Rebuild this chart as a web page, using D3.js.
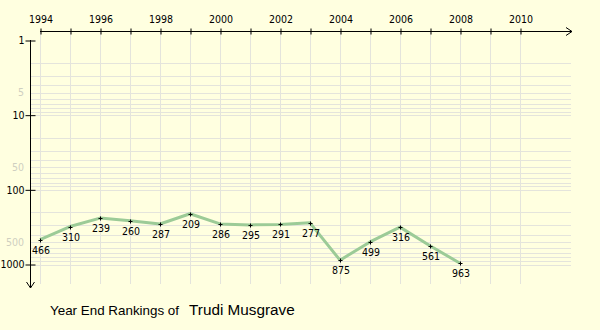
<!DOCTYPE html>
<html>
<head>
<meta charset="utf-8">
<script src="https://cdn.jsdelivr.net/npm/d3@7"></script>
<style>
  html, body { margin: 0; padding: 0; background: #ffffe0; }
  svg { display: block; }
</style>
</head>
<body>
<svg id="chart" width="600" height="330"></svg>
<script>
// Year-end rankings
const years = [1994, 1995, 1996, 1997, 1998, 1999, 2000, 2001, 2002, 2003, 2004, 2005, 2006, 2007, 2008];
const ranks = [466, 310, 239, 260, 287, 209, 286, 295, 291, 277, 875, 499, 316, 561, 963];

const yearTicks = [1994, 1996, 1998, 2000, 2002, 2004, 2006, 2008, 2010];
const majorRankTicks = [1, 10, 100, 1000];
const minorRankLabels = [5, 50, 500];
const playerName = "Trudi Musgrave";

const svg = d3.select("#chart");

const x = d3.scaleLinear().domain([1994, 2010]).range([40, 520]);
const y = d3.scaleLog().domain([1, 1000]).range([40.5, 264.5]);

const gridColor = "#e4e4dc";
const fontSize = 10.5;
const tickFont = "'DejaVu Sans Condensed', 'DejaVu Sans', sans-serif";
const captionFont = "'Liberation Sans', Arial, sans-serif";

// horizontal grid at 2..9 of each decade plus the decade lines
const gridVals = [];
for (let d = 1; d <= 100; d *= 10) {
  for (let m = 2; m <= 10; m++) gridVals.push(m * d);
}
svg.append("g")
  .selectAll("line")
  .data(gridVals)
  .join("line")
  .attr("x1", 30).attr("x2", 571)
  .attr("y1", d => Math.round(y(d)) + 0.5)
  .attr("y2", d => Math.round(y(d)) + 0.5)
  .attr("stroke", gridColor)
  .attr("stroke-width", 1);

// vertical grid, one line per year
svg.append("g")
  .selectAll("line")
  .data(d3.range(1994, 2011))
  .join("line")
  .attr("x1", d => x(d) + 0.5).attr("x2", d => x(d) + 0.5)
  .attr("y1", 32).attr("y2", 284)
  .attr("stroke", gridColor)
  .attr("stroke-width", 1);

// top year axis
const xAxis = d3.axisTop(x)
  .tickValues(d3.range(1994, 2011))
  .tickSize(3)
  .tickFormat(d => yearTicks.includes(d) ? String(d) : "");
const gx = svg.append("g")
  .attr("transform", "translate(0.5,31.5)")
  .call(xAxis);
gx.select(".domain").remove();
gx.selectAll(".tick line").attr("y2", 3).attr("y1", -3).attr("stroke", "#000");
gx.selectAll(".tick text")
  .attr("y", -9)
  .style("font-size", fontSize + "px")
  .style("font-family", tickFont)
  .attr("fill", "#000");
svg.append("line")
  .attr("x1", 40).attr("x2", 572)
  .attr("y1", 31.5).attr("y2", 31.5)
  .attr("stroke", "#000");
svg.append("path")
  .attr("d", "M566,27.5 L572,31.5 L566,35.5")
  .attr("fill", "none")
  .attr("stroke", "#000");

// left ranking axis (log)
const yAxis = d3.axisLeft(y)
  .tickValues(majorRankTicks)
  .tickSize(5)
  .tickFormat(d3.format("d"));
const gy = svg.append("g")
  .attr("transform", "translate(30.5,0)")
  .call(yAxis);
gy.select(".domain").remove();
gy.selectAll(".tick line").attr("x1", -5).attr("x2", 5).attr("stroke", "#000");
gy.selectAll(".tick text")
  .attr("x", -6)
  .style("font-size", fontSize + "px")
  .style("font-family", tickFont)
  .attr("fill", "#000");
svg.append("line")
  .attr("x1", 30.5).attr("x2", 30.5)
  .attr("y1", 40).attr("y2", 288)
  .attr("stroke", "#000");
svg.append("path")
  .attr("d", "M26.5,282 L30.5,288 L34.5,282")
  .attr("fill", "none")
  .attr("stroke", "#000");

// faint half-decade labels
svg.append("g")
  .selectAll("text")
  .data(minorRankLabels)
  .join("text")
  .attr("x", 24)
  .attr("y", d => y(d))
  .attr("dy", "0.35em")
  .attr("text-anchor", "end")
  .style("font-size", fontSize + "px")
  .style("font-family", tickFont)
  .attr("fill", "#cfcfc0")
  .text(d => d);

// ranking line
const data = years.map((yr, i) => ({ yr, r: ranks[i] }));
svg.append("path")
  .datum(data)
  .attr("d", d3.line().x(d => x(d.yr)).y(d => y(d.r)))
  .attr("fill", "none")
  .attr("stroke", "#9ccb97")
  .attr("stroke-width", 3)
  .attr("stroke-linejoin", "round");

// point markers
const pts = svg.append("g").selectAll("g")
  .data(data)
  .join("g")
  .attr("transform", d => `translate(${x(d.yr) + 0.5},${Math.round(y(d.r)) + 0.5})`);
pts.append("path")
  .attr("d", "M-2,0 L2,0 M0,-2 L0,2")
  .attr("stroke", "#000")
  .attr("stroke-width", 1);

// value labels under each point
svg.append("g").selectAll("text")
  .data(data)
  .join("text")
  .attr("x", d => x(d.yr) + 1)
  .attr("y", d => y(d.r) + 14)
  .attr("text-anchor", "middle")
  .style("font-size", fontSize + "px")
  .style("font-family", tickFont)
  .attr("fill", "#000")
  .text(d => d.r);

// caption
const cap = svg.append("text")
  .attr("x", 50)
  .attr("y", 315)
  .style("font-family", captionFont)
  .attr("fill", "#000");
cap.append("tspan").style("font-size", "13.4px").text("Year End Rankings of");
cap.append("tspan").style("font-size", "15.3px").attr("dx", 10).text(playerName);
</script>
</body>
</html>
